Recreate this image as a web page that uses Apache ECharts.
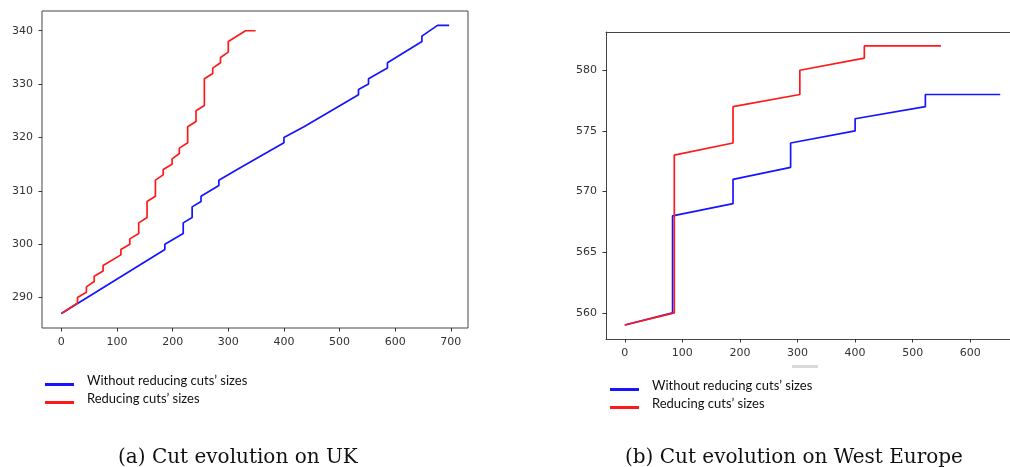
<!DOCTYPE html>
<html>
<head>
<meta charset="utf-8">
<script src="https://cdn.jsdelivr.net/npm/echarts@6/dist/echarts.min.js"></script>
<style>html,body{margin:0;padding:0;background:#fff;}#c{width:1010px;height:467px;}</style>
</head>
<body>
<div id="c"></div>
<script>
// ---- Data ----
const seriesNames = ['Without reducing cuts’ sizes', 'Reducing cuts’ sizes'];
const captionA = '(a) Cut evolution on UK';
const captionB = '(b) Cut evolution on West Europe';

// UK (left panel): [iteration, cut size]
const ukWithout = [[0,287],[186,299],[186,300],[219,302],[219,304],[235,305],[235,307],[251,308],[251,309],[283,311],[283,312],[316,314],[400,319],[400,320],[436,322],[534,328],[534,329],[552,330],[552,331],[586,333],[586,334],[648,338],[648,339],[676,341],[697,341]];
const ukReducing = [[0,287],[29,289],[29,290],[45,291],[45,292],[59,293],[59,294],[75,295],[75,296],[107,298],[107,299],[123,300],[123,301],[139,302],[139,304],[154,305],[154,308],[169,309],[169,312],[183,313],[183,314],[199,315],[199,316],[212,317],[212,318],[227,319],[227,322],[242,323],[242,325],[257,326],[257,331],[272,332],[272,333],[286,334],[286,335],[300,336],[300,338],[331,340],[349,340]];

// West Europe (right panel)
const weWithout = [[0,559],[83,560],[83,568],[188,569],[188,571],[288,572],[288,574],[400,575],[400,576],[522,577],[522,578],[652,578]];
const weReducing = [[0,559],[86,560],[86,573],[188,574],[188,577],[304,578],[304,580],[416,581],[416,582],[549,582]];

// Tick labels
const xTicksA = [0,100,200,300,400,500,600,700];
const yTicksA = [290,300,310,320,330,340];
const xTicksB = [0,100,200,300,400,500,600];
const yTicksB = [560,565,570,575,580];

const colors = ['#1515ff', '#ff1a1a'];

const chart = echarts.init(document.getElementById('c'), null, {renderer:'canvas'});

function axis(gi, min, max, ticks, showLine) {
  return {
    type:'value', gridIndex:gi, min:min, max:max,
    axisLine:{show:!!showLine, onZero:false, lineStyle:{color:'#444', width:1}},
    splitLine:{show:false},
    axisTick:{show:true, length:3.5, lineStyle:{color:'#333', width:1}, customValues:ticks},
    axisLabel:{show:true, margin:9, color:'#333', fontFamily:'DejaVu Sans', fontSize:11, customValues:ticks}
  };
}
function topLine(gi, min, max) {
  return {
    type:'value', gridIndex:gi, min:min, max:max, position:'top',
    axisLine:{show:true, onZero:false, lineStyle:{color:'#444', width:1}},
    splitLine:{show:false}, axisTick:{show:false}, axisLabel:{show:false}
  };
}
function line(name, data, gi, color, z) {
  return {
    type:'line', name:name, xAxisIndex:gi, yAxisIndex:gi, data:data,
    showSymbol:false, symbol:'none', animation:false, z:z,
    lineStyle:{color:color, width:1.7}, itemStyle:{color:color}
  };
}
function legend(left, top) {
  return {
    orient:'vertical', left:left, top:top, itemWidth:29, itemHeight:11, itemGap:5,
    icon:'path://M0,0L29,0M0,8L29,8L29,11L0,11Z', selectedMode:false,
    textStyle:{fontFamily:'Lato', fontSize:13, color:'#111', padding:[0,0,0,8]},
    data:seriesNames
  };
}

chart.setOption({
  animation:false,
  backgroundColor:'#fff',
  grid:[
    {left:42, top:11, width:426, height:317, outerBoundsMode:'none', show:true, borderColor:'#444', borderWidth:1, backgroundColor:'transparent'},
    {left:606, top:32, width:413, height:307, outerBoundsMode:'none', show:false}
  ],
  xAxis:[axis(0,-34.8,730.8,xTicksA,false), axis(1,-32.6,684.6,xTicksB,true), topLine(1,-32.6,684.6)],
  yAxis:[axis(0,284.3,343.7,yTicksA,false), axis(1,557.85,583.15,yTicksB,true)],
  legend:[legend(40,369), legend(605,374)],
  series:[
    line(seriesNames[0], ukWithout, 0, colors[0], 2),
    line(seriesNames[1], ukReducing, 0, colors[1], 3),
    line(seriesNames[0], weWithout, 1, colors[0], 2),
    line(seriesNames[1], weReducing, 1, colors[1], 3)
  ],
  graphic:[
    {type:'text', x:118, y:458, style:{text:captionA, font:'20px "DejaVu Serif"', fill:'#111', textVerticalAlign:'middle'}},
    {type:'text', x:625, y:458, style:{text:captionB, font:'20px "DejaVu Serif"', fill:'#111', textVerticalAlign:'middle'}},
    {type:'rect', shape:{x:792, y:365, width:26, height:3}, style:{fill:'#d9d9d9'}}
  ]
});
</script>
</body>
</html>
